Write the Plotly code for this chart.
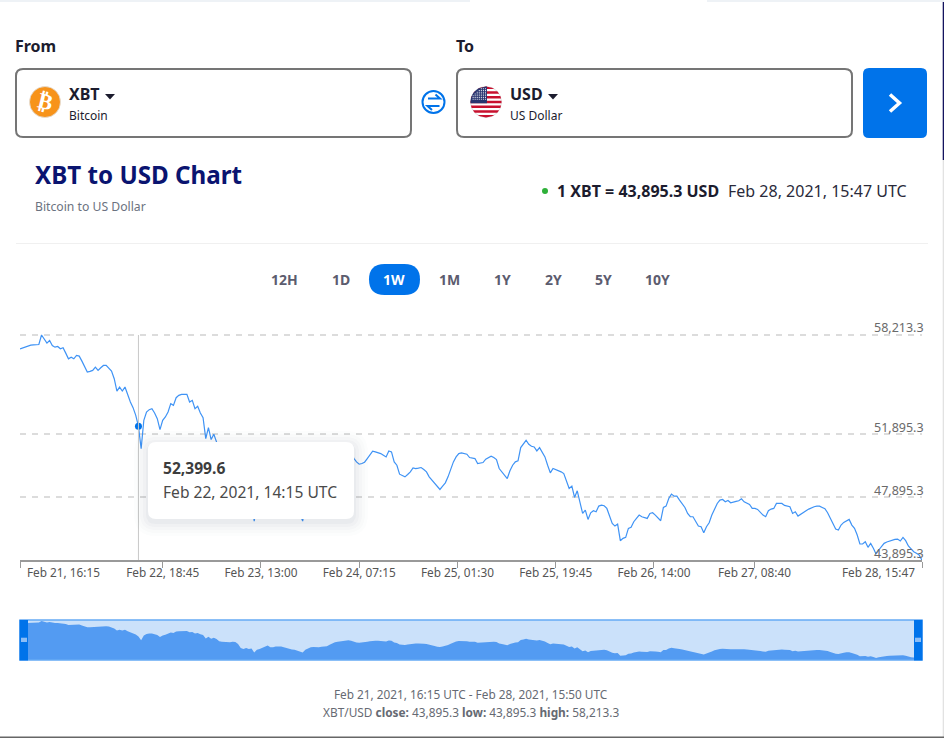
import math
import pandas as pd
import plotly.graph_objects as go

W, H = 944, 738

# --- Data: XBT/USD, every 30 minutes ---
start_time = "2021-02-21 16:15"
end_time = "2021-02-28 15:47"
prices = [
    57334, 57398, 57440, 57525, 57567, 57588, 57588, 57610, 58213.3, 57969,
    57694, 57863, 57546, 57440, 57483, 57334, 57398, 57059, 56700, 56805,
    56700, 56911, 56869, 56551, 56171, 55853, 55896, 55959, 56171, 55959,
    56128, 56276, 56276, 56128, 55917, 55430, 54647, 54901, 54647, 54901,
    54372, 53949, 53589, 53102, 52399.6, 50986, 52785, 53314, 53462, 53526,
    53250, 52891, 52193, 52785, 52997, 53314, 53843, 53737, 54224, 54372,
    54435, 54435, 54435, 53949, 54055, 53526, 53674, 53250, 52954, 51621,
    52319, 51558, 51896, 51410, 50561, 50371, 50244, 50371, 50244, 50371,
    50308, 49546, 48022, 47704, 48022, 47704, 47895, 46371, 47387, 47704,
    48212, 48657, 48974, 48339, 48276, 48593, 48657, 48593, 48339, 48022,
    47514, 47450, 47387, 47070, 46816, 46371, 47387, 48022, 48339, 48403,
    48276, 48339, 48466, 48593, 48657, 49292, 49927, 50244, 50434, 50561,
    50752, 50879, 50942, 50752, 50371, 50139, 49991, 50033, 50118, 50351,
    50604, 50816, 50774, 50731, 50668, 50562, 50456, 50837, 50774, 50139,
    49927, 49356, 49250, 49187, 49335, 49504, 49758, 49716, 49737, 49779,
    49652, 49504, 49187, 48975, 48764, 48552, 48383, 48594, 48806, 49187,
    49650, 50139, 50456, 50668, 50710, 50668, 50626, 50414, 50393, 50351,
    50033, 50076, 50097, 50308, 50414, 50499, 50414, 50287, 49716, 49504,
    49292, 49081, 49568, 49927, 50139, 50202, 51049, 51260, 51514, 51260,
    51134, 51091, 50837, 51049, 50774, 50456, 49927, 49441, 49716, 49652,
    49610, 49504, 49398, 48869, 48446, 48594, 47875, 48298, 47600, 46859,
    47071, 46478, 46901, 47028, 46965, 47325, 47388, 47346, 47177, 46648,
    46224, 46055, 46182, 45124, 45272, 45336, 45907, 45971, 46330, 46542,
    46753, 46648, 46584, 46542, 46859, 46902, 46753, 46605, 46394, 47240,
    47325, 47811, 48087, 47960, 47960, 47706, 47452, 47240, 46859, 46648,
    46648, 46330, 46055, 46013, 45632, 46013, 46267, 46753, 47177, 47494,
    47706, 47748, 47600, 47684, 47536, 47600, 47621, 47663, 47790, 47600,
    47494, 47431, 47177, 47177, 47113, 46923, 46753, 46648, 47028, 47134,
    47177, 47494, 47515, 47494, 47367, 47304, 47282, 46859, 46965, 46690,
    46817, 46923, 47028, 47134, 47219, 47282, 47325, 47325, 47240, 47155,
    46902, 46542, 46182, 45864, 45801, 46118, 46288, 46394, 46478, 46118,
    45907, 45484, 44913, 44913, 45060, 44701, 44955, 44637, 44278, 44532,
    44785, 44955, 45040, 45103, 45166, 45209, 45230, 45103, 45336, 45124,
    44785, 44574, 44426, 44320, 44214, 43895.3,
]
times = pd.date_range(start_time, periods=len(prices), freq="30min")

y_ticks = [58213.3, 51895.3, 47895.3, 43895.3]
y_labels = ["58,213.3", "51,895.3", "47,895.3", "43,895.3"]
x_ticks = ["2021-02-21 16:15", "2021-02-22 18:45", "2021-02-23 13:00", "2021-02-24 07:15",
           "2021-02-25 01:30", "2021-02-25 19:45", "2021-02-26 14:00", "2021-02-27 08:40",
           "2021-02-28 15:47"]
x_labels = ["Feb 21, 16:15", "Feb 22, 18:45", "Feb 23, 13:00", "Feb 24, 07:15",
            "Feb 25, 01:30", "Feb 25, 19:45", "Feb 26, 14:00", "Feb 27, 08:40",
            "Feb 28, 15:47"]
hover_time = "2021-02-22 14:15"
hover_price = 52399.6
range_labels = ["12H", "1D", "1W", "1M", "1Y", "2Y", "5Y", "10Y"]
range_pos = [284, 340.5, 394, 449, 502, 553, 603, 657]

BLUE = "#0073ea"
FONT = "Noto Sans"


# --- Helpers: page pixels to paper coordinates ---
def fx(x):
    return x / W


def fy(y):
    return 1 - y / H


def rrect(x0, y0, x1, y1, r):
    p = [(x0 + r, y0), (x1 - r, y0), (x1, y0), (x1, y0 + r), (x1, y1 - r), (x1, y1),
         (x1 - r, y1), (x0 + r, y1), (x0, y1), (x0, y1 - r), (x0, y0 + r), (x0, y0), (x0 + r, y0)]
    c = [(fx(a), fy(b)) for a, b in p]
    return ("M{0} {1} L{2} {3} Q{4} {5} {6} {7} L{8} {9} Q{10} {11} {12} {13} L{14} {15} "
            "Q{16} {17} {18} {19} L{20} {21} Q{22} {23} {24} {25} Z").format(*[v for q in c for v in q])


def poly(points, close=False):
    d = "M" + " L".join(f"{fx(a)} {fy(b)}" for a, b in points)
    return d + (" Z" if close else "")


shapes = []


def add_path(path, fill="rgba(0,0,0,0)", line=None, width=0, layer="above", opacity=1):
    shapes.append(dict(type="path", xref="paper", yref="paper", path=path, fillcolor=fill,
                       line=dict(color=line or "rgba(0,0,0,0)", width=width), layer=layer, opacity=opacity))


def add_rect(x0, y0, x1, y1, fill, layer="above", line=None, width=0):
    shapes.append(dict(type="rect", xref="paper", yref="paper", x0=fx(x0), x1=fx(x1), y0=fy(y0), y1=fy(y1),
                       fillcolor=fill, line=dict(color=line or "rgba(0,0,0,0)", width=width), layer=layer))


def add_circle(cx, cy, r, fill, line=None, width=0):
    shapes.append(dict(type="circle", xref="paper", yref="paper", x0=fx(cx - r), x1=fx(cx + r),
                       y0=fy(cy - r), y1=fy(cy + r), fillcolor=fill,
                       line=dict(color=line or "rgba(0,0,0,0)", width=width), layer="above"))


notes = []


def text(x, y, s, size=12, color="#333", anchor="left", angle=0, family=FONT):
    notes.append(dict(xref="paper", yref="paper", x=fx(x), y=fy(y), text=s, showarrow=False,
                      xanchor=anchor, yanchor="middle", textangle=angle, borderpad=0,
                      font=dict(family=family, size=size, color=color)))


# round US flag icon, stripes cut to the circle
def flag(cx, cy, r):
    add_circle(cx, cy, r, "#ffffff", "#d8d8d8", 0.8)
    h = 2 * r / 13

    def half(y):
        return math.sqrt(max(r * r - (y - cy) ** 2, 0))

    red = ""
    for i in range(0, 13, 2):
        y0, y1 = cy - r + i * h, cy - r + (i + 1) * h
        mid = (y0 + y1) / 2
        ys = [y0, mid, y1]
        red += poly([(cx + half(y), y) for y in ys] + [(cx - half(y), y) for y in reversed(ys)], True) + " "
    add_path(red, "#c8102e")
    canton_h = 7 * h
    canton_w = r * 1.06
    corner = [(cx - half(cy - r + k * canton_h / 8), cy - r + k * canton_h / 8) for k in range(9)]
    top = [(cx - r + canton_w, cy - half(cx - r + canton_w) if False else cy - math.sqrt(r * r - (canton_w - r) ** 2))]
    add_path(poly(corner + [(cx - r + canton_w, cy - r + canton_h)] + top + [(cx, cy - r)], True), "#27346f")
    dots = ""
    for row in range(7):
        for col in range(7):
            x = cx - r + 2.6 + col * 2.05
            y = cy - r + 2.2 + row * 1.75
            if (x - cx) ** 2 + (y - cy) ** 2 < (r - 1) ** 2:
                dots += poly([(x - 0.45, y - 0.45), (x + 0.45, y - 0.45), (x + 0.45, y + 0.45), (x - 0.45, y + 0.45)], True) + " "
    add_path(dots, "#ffffff")


# --- Page frame ---
add_rect(0, 0, 470, 2, "#eef2f6")
add_rect(707, 0, 944, 2, "#eef2f6")
add_rect(942.7, 2, 944, 160, "#14145f")
add_rect(942.7, 160, 944, 737, "#e2e2e2")
add_rect(0, 736.6, 944, 738, "#666666")
add_rect(16, 243, 928, 244, "#f0f0f0")

# --- Converter header ---
text(14, 46, "<b>From</b>", 16, "#1c1c2e")
text(455, 46, "<b>To</b>", 16, "#1c1c2e")
add_path(rrect(16, 69, 411, 137, 7), "#ffffff", "#757575", 2)
add_path(rrect(457, 69, 852, 137, 7), "#ffffff", "#757575", 2)
add_path(rrect(863, 68, 927, 138, 6), BLUE)
add_path(poly([(890, 94.5), (899.5, 103), (890, 111.5)]), line="#ffffff", width=3.5)

add_circle(45, 102, 15.5, "#f7931a", "#e0e0e0", 0.8)
text(45.5, 101.5, "<b>₿</b>", 22, "#ffffff", "center", 14, "DejaVu Sans")
text(67.5, 94, "<b>XBT</b>", 16, "#1c1c2e")
add_path(poly([(105, 94), (115, 94), (110, 99.5)], True), "#1c1c2e")
text(68, 116, "Bitcoin", 12, "#1c1c2e")

add_circle(433.5, 102, 11, "#ffffff", BLUE, 2)
add_path(poly([(428, 98.5), (440, 98.5), (435.5, 94.5)]), line=BLUE, width=2)
add_path(poly([(439.5, 106), (427.5, 106), (432, 110)]), line=BLUE, width=2)

flag(486, 102, 15.5)
text(509, 94, "<b>USD</b>", 16, "#1c1c2e")
add_path(poly([(548, 94), (558, 94), (553, 99.5)], True), "#1c1c2e")
text(509, 116, "US Dollar", 12, "#1c1c2e")

text(34, 174, "<b>XBT to USD Chart</b>", 24.2, "#0a1470")
text(34, 206, "Bitcoin to US Dollar", 12.2, "#6b7280")
add_circle(545, 191, 3, "#2eb039")
text(556, 191, "<b>1 XBT = 43,895.3 USD</b>", 16, "#1c1c2e")
text(727, 191, "Feb 28, 2021, 15:47 UTC", 16, "#2a2a3a")

# --- Range buttons ---
add_path(rrect(369, 264, 420, 295, 15.5), BLUE)
for lab, pos in zip(range_labels, range_pos):
    text(pos, 279.5, f"<b>{lab}</b>", 14, "#ffffff" if lab == "1W" else "#5c5c6e", "center")

# --- Navigator frame ---
add_rect(20, 620, 922, 660, "#cbe1fa", layer="below")
add_rect(20, 620, 922, 660, "rgba(0,0,0,0)", line="#66aaf5", width=1.5)
add_rect(19.5, 620, 28, 660.5, BLUE)
add_rect(914, 620, 922.5, 660.5, BLUE)
add_rect(21, 637.7, 27, 642, "#8cbdf5")
add_rect(915, 637.7, 921, 642, "#8cbdf5")

# --- Hover line and tooltip ---
shapes.append(dict(type="line", xref="x", yref="paper", x0=hover_time, x1=hover_time,
                   y0=fy(335), y1=fy(560), line=dict(color="#c8c8c8", width=1), layer="above"))
for grow, alpha in [(14, 0.012), (11, 0.016), (8, 0.02), (5, 0.024), (2, 0.03)]:
    add_path(rrect(148 - grow, 442 - grow + 3, 354 + grow, 519 + grow + 3, 8 + grow), f"rgba(40,50,90,{alpha})")
add_path(rrect(148, 442, 354, 519, 8), "#ffffff")
text(162, 468, "<b>52,399.6</b>", 15.6, "#3d3d3d")
text(162, 492, "Feb 22, 2021, 14:15 UTC", 15.6, "#4a4a4a")

# --- Footer ---
text(471, 694, "Feb 21, 2021, 16:15 UTC - Feb 28, 2021, 15:50 UTC", 11.8, "#666a73", "center")
text(471, 712, "XBT/USD <b>close:</b> 43,895.3 <b>low:</b> 43,895.3 <b>high:</b> 58,213.3", 11.85, "#666a73", "center")

# --- Axis labels that sit inside the plot or are pulled in at the ends ---
for val, lab in zip(y_ticks, y_labels):
    notes.append(dict(xref="paper", yref="y", x=fx(924.5), y=val, text=lab, showarrow=False, xanchor="right",
                      yanchor="bottom", yshift=-2.5, borderpad=0, font=dict(family=FONT, size=12.5, color="#6a6a6a")))
text(26, 572, x_labels[0], 11.8, "#555555")
text(916, 572, x_labels[-1], 11.8, "#555555", "right")

fig = go.Figure()
fig.add_trace(go.Scatter(x=times, y=prices, mode="lines", line=dict(color="#3f93f5", width=1.2), xaxis="x", yaxis="y"))
fig.add_trace(go.Scatter(x=[hover_time], y=[hover_price], mode="markers",
                         marker=dict(color=BLUE, size=7), xaxis="x", yaxis="y"))
fig.add_trace(go.Scatter(x=times, y=prices, mode="lines", line=dict(width=0), fill="tozeroy",
                         fillcolor="#539bf2", xaxis="x2", yaxis="y2"))

shown_labels = [""] + x_labels[1:-1] + [""]
fig.update_layout(
    width=W, height=H, margin=dict(l=0, r=0, t=0, b=0), showlegend=False,
    paper_bgcolor="#ffffff", plot_bgcolor="rgba(0,0,0,0)", hovermode=False,
    font=dict(family=FONT),
    xaxis=dict(type="date", domain=[fx(20), fx(922)], range=[start_time, end_time], tickmode="array",
               tickvals=x_ticks, ticktext=shown_labels, ticks="outside", ticklen=6, tickcolor="#999999", tickwidth=1,
               showline=True, linecolor="#999999", linewidth=2, showgrid=False, zeroline=False,
               tickfont=dict(family=FONT, size=11.8, color="#555555"), ticklabelstandoff=-5, anchor="y"),
    yaxis=dict(domain=[fy(560), fy(333)], range=[43895.3, 58340.3], tickmode="array", tickvals=y_ticks,
               showticklabels=False, ticks="", showgrid=True, gridcolor="#dcdcdc", gridwidth=1.5,
               griddash="6px,6px", zeroline=False, showline=False, anchor="x"),
    xaxis2=dict(type="date", domain=[fx(20), fx(922)], range=[start_time, end_time], visible=False, anchor="y2"),
    yaxis2=dict(domain=[fy(660), fy(620)], range=[43518, 58590], visible=False, anchor="x2"),
    shapes=shapes, annotations=notes,
)

fig.write_html("out.html", config={"displayModeBar": False},
               post_script="document.body.style.margin='0';document.body.style.overflow='hidden';")
